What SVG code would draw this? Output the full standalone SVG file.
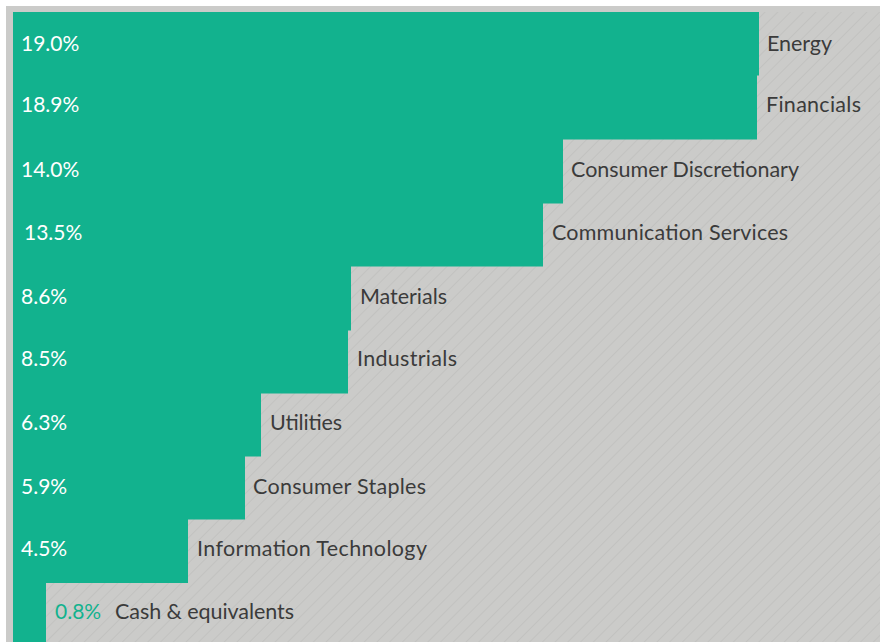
<svg xmlns="http://www.w3.org/2000/svg" width="880" height="642" viewBox="0 0 880 642">
<defs>
<pattern id="hatch" patternUnits="userSpaceOnUse" width="9" height="9" patternTransform="rotate(45)">
<rect width="9" height="9" fill="#cbcbc9"/>
<line x1="0" y1="0" x2="0" y2="9" stroke="#bcbcba" stroke-width="1.2"/>
</pattern>
<style>
.bar{fill:#12b28e}
.pct{font-family:Lato,"Liberation Sans",sans-serif;font-size:21px;fill:#ffffff}
.lbl{font-family:Lato,"Liberation Sans",sans-serif;font-size:21.5px;fill:#3b3b3b}
</style>
</defs>
<rect x="0" y="0" width="880" height="642" fill="#ffffff"/>
<rect x="6" y="6" width="874" height="636" fill="url(#hatch)"/>
<rect x="6" y="6" width="7" height="636" fill="#cbcbc9"/>
<rect x="6" y="6" width="874" height="6" fill="#cbcbc9"/>
<g id="connectors"></g>
<g id="energy"><rect class="bar" x="13" y="12" width="746" height="63.5"/><text class="pct" x="21" y="51">19.0%</text><text class="lbl" x="767" y="51" textLength="65" lengthAdjust="spacing">Energy</text></g>
<g id="financials"><rect class="bar" x="13" y="75" width="744" height="64.5"/><text class="pct" x="21" y="112">18.9%</text><text class="lbl" x="766" y="112" textLength="95" lengthAdjust="spacing">Financials</text></g>
<g id="consumer-discretionary"><rect class="bar" x="13" y="139" width="550" height="64.5"/><text class="pct" x="21" y="177">14.0%</text><text class="lbl" x="571" y="177" textLength="228" lengthAdjust="spacing">Consumer Discretionary</text></g>
<g id="communication-services"><rect class="bar" x="13" y="203" width="530" height="63.5"/><text class="pct" x="24" y="240">13.5%</text><text class="lbl" x="552" y="240" textLength="236" lengthAdjust="spacing">Communication Services</text></g>
<g id="materials"><rect class="bar" x="13" y="266" width="338" height="64.5"/><text class="pct" x="21" y="304">8.6%</text><text class="lbl" x="360" y="304" textLength="87" lengthAdjust="spacing">Materials</text></g>
<g id="industrials"><rect class="bar" x="13" y="330" width="335" height="63.5"/><text class="pct" x="21" y="366">8.5%</text><text class="lbl" x="357" y="366" textLength="100" lengthAdjust="spacing">Industrials</text></g>
<g id="utilities"><rect class="bar" x="13" y="393" width="248" height="63.5"/><text class="pct" x="21" y="430">6.3%</text><text class="lbl" x="270" y="430" textLength="72" lengthAdjust="spacing">Utilities</text></g>
<g id="consumer-staples"><rect class="bar" x="13" y="456" width="232" height="63.5"/><text class="pct" x="21" y="494">5.9%</text><text class="lbl" x="253" y="494" textLength="173" lengthAdjust="spacing">Consumer Staples</text></g>
<g id="information-technology"><rect class="bar" x="13" y="519" width="175" height="64"/><text class="pct" x="21" y="556">4.5%</text><text class="lbl" x="197" y="556" textLength="230" lengthAdjust="spacing">Information Technology</text></g>
<g id="cash"><rect class="bar" x="13" y="583" width="33" height="59"/><text class="pct" x="55" y="619" style="fill:#12b28e">0.8%</text><text class="lbl" x="115" y="619" textLength="179" lengthAdjust="spacing">Cash &amp; equivalents</text></g>
</svg>
